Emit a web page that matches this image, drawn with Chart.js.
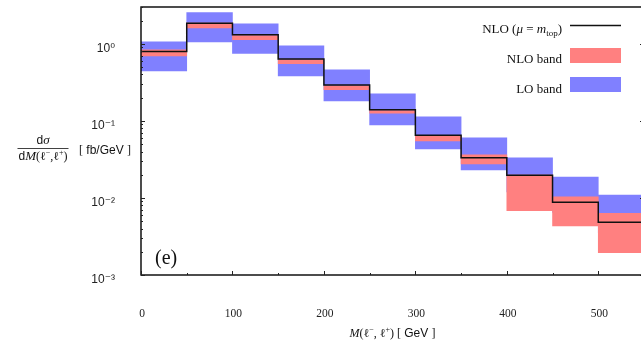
<!DOCTYPE html>
<html>
<head>
<meta charset="utf-8">
<script src="https://cdn.jsdelivr.net/npm/chart.js@4.4.1/dist/chart.umd.min.js"></script>
<style>
  html, body { margin: 0; padding: 0; background: #fff; }
  #wrap { width: 641px; height: 344px; overflow: hidden; }
</style>
</head>
<body>
<div id="wrap"><canvas id="chart" width="650" height="344"></canvas></div>
<script>
// lower edge of each 50 GeV bin in M(l-,l+)
var binLow = [0, 50, 100, 150, 200, 250, 300, 350, 400, 450, 500];
var binWidth = 50;

// dsigma/dM in fb/GeV
var nloCentral = [0.794, 1.84, 1.31, 0.633, 0.291, 0.139, 0.0648, 0.0331, 0.0197, 0.0088, 0.00483];
var nloLow     = [0.698, 1.61, 1.13, 0.55, 0.253, 0.126, 0.055, 0.0277, 0.00684, 0.00433, 0.00195];
var nloHigh    = [0.836, 1.86, 1.28, 0.62, 0.285, 0.136, 0.0645, 0.0362, 0.0198, 0.0103, 0.0063];
var loLow      = [0.446, 1.06, 0.748, 0.384, 0.182, 0.0887, 0.0433, 0.0231, 0.012, 0.0065, 0.0035];
var loHigh     = [1.06, 2.53, 1.82, 0.942, 0.459, 0.224, 0.1127, 0.0602, 0.0331, 0.0187, 0.0109];

var xTickValues = [0, 100, 200, 300, 400, 500];
var yTickValues = [0.001, 0.01, 0.1, 1];

var SERIF = '"Liberation Serif", "DejaVu Serif", serif';
var SANS = '"Liberation Sans", "DejaVu Sans", sans-serif';
var supMap = { '-': '\u207B', '0': '\u2070', '1': '\u00B9', '2': '\u00B2', '3': '\u00B3' };

function powerLabel(v) {
  var e = String(Math.round(Math.log10(v)));
  return '10' + e.split('').map(c => supMap[c]).join('');
}

// draw a row of text pieces with different fonts, returns total width
function drawRuns(ctx, runs, x, y, align) {
  var total = 0;
  runs.forEach(r => { ctx.font = r.font; r.w = ctx.measureText(r.t).width; total += r.w; });
  var cx = align === 'center' ? x - total / 2 : align === 'right' ? x - total : x;
  ctx.textAlign = 'left';
  ctx.textBaseline = 'alphabetic';
  runs.forEach(r => { ctx.font = r.font; ctx.fillText(r.t, cx, y + (r.dy || 0)); cx += r.w; });
  return total;
}

var decorations = {
  id: 'decorations',
  afterDatasetsDraw(chart) {
    var ctx = chart.ctx, a = chart.chartArea;
    var xs = chart.scales.x, ys = chart.scales.y;
    ctx.save();
    ctx.strokeStyle = '#000';
    ctx.lineWidth = 1.4;
    ctx.strokeRect(a.left, a.top, a.right - a.left, a.bottom - a.top);

    // inward ticks
    ctx.lineWidth = 1;
    ctx.strokeStyle = '#222';
    ctx.beginPath();
    for (var d = -3; d <= 0; d++) {
      for (var m = 1; m <= 9; m++) {
        var v = m * Math.pow(10, d);
        if (v > ys.max) break;
        var py = Math.round(ys.getPixelForValue(v)) + 0.5;
        var len = m === 1 ? 4 : 2;
        ctx.moveTo(a.left, py); ctx.lineTo(a.left + len, py);
        ctx.moveTo(a.right, py); ctx.lineTo(a.right - len, py);
      }
    }
    for (var xv = 0; xv <= xs.max; xv += 50) {
      var px = Math.round(xs.getPixelForValue(xv)) + 0.5;
      var l = xv % 100 === 0 ? 4 : 2;
      ctx.moveTo(px, a.bottom); ctx.lineTo(px, a.bottom - l);
    }
    ctx.stroke();
    ctx.restore();
  },
  afterDraw(chart) {
    var ctx = chart.ctx, a = chart.chartArea;
    var ds = chart.data.datasets;
    ctx.save();
    ctx.fillStyle = '#111';

    var it12 = 'italic 12px ' + SERIF, rm12 = '12px ' + SERIF, sup = '8px ' + SERIF;
    var sans12 = '12px ' + SANS;

    // x axis title
    drawRuns(ctx, [
      { t: 'M', font: it12 }, { t: '(', font: rm12 }, { t: '\u2113', font: rm12 },
      { t: '\u2212', font: sup, dy: -5 }, { t: ', ', font: rm12 }, { t: '\u2113', font: rm12 },
      { t: '+', font: sup, dy: -5 }, { t: ')', font: rm12 }, { t: ' [', font: rm12 },
      { t: ' GeV ', font: sans12 }, { t: ']', font: rm12 }
    ], (a.left + a.right) / 2, 337, 'center');

    // y axis title: fraction plus unit
    var fx = 43;
    drawRuns(ctx, [{ t: 'd', font: sans12 }, { t: '\u03C3', font: 'italic 13px ' + SERIF }], fx, 144, 'center');
    var wDen = drawRuns(ctx, [
      { t: 'd', font: sans12 }, { t: 'M', font: 'italic 13px ' + SERIF }, { t: '(', font: rm12 },
      { t: '\u2113', font: rm12 }, { t: '\u2212', font: sup, dy: -5 }, { t: ',', font: rm12 },
      { t: '\u2113', font: rm12 }, { t: '+', font: sup, dy: -5 }, { t: ')', font: rm12 }
    ], fx, 160, 'center');
    ctx.strokeStyle = '#111';
    ctx.lineWidth = 0.8;
    ctx.beginPath();
    ctx.moveTo(fx - wDen / 2 - 1, 148.5); ctx.lineTo(fx + wDen / 2 + 1, 148.5);
    ctx.stroke();
    drawRuns(ctx, [{ t: '[', font: rm12 }, { t: ' fb/GeV ', font: sans12 }, { t: ']', font: rm12 }], 79, 154, 'left');

    // panel label
    drawRuns(ctx, [{ t: '(e)', font: '20px ' + SERIF }], 155, 264, 'left');

    // legend
    var rm13 = '13px ' + SERIF, it13 = 'italic 13px ' + SERIF, sub = '9px ' + SERIF;
    var textRight = 562, swL = 570, swR = 621;
    drawRuns(ctx, [
      { t: 'NLO (', font: rm13 }, { t: '\u03BC', font: it13 }, { t: ' = ', font: rm13 },
      { t: 'm', font: it13 }, { t: 'top', font: sub, dy: 3 }, { t: ')', font: rm13 }
    ], textRight, 33, 'right');
    ctx.strokeStyle = ds[0].borderColor;
    ctx.lineWidth = 1.5;
    ctx.beginPath(); ctx.moveTo(swL, 25.5); ctx.lineTo(swR, 25.5); ctx.stroke();

    drawRuns(ctx, [{ t: ds[1].label, font: rm13 }], textRight, 63, 'right');
    ctx.fillStyle = ds[1].backgroundColor;
    ctx.fillRect(swL, 48, swR - swL, 15);

    ctx.fillStyle = '#111';
    drawRuns(ctx, [{ t: ds[2].label, font: rm13 }], textRight, 93, 'right');
    ctx.fillStyle = ds[2].backgroundColor;
    ctx.fillRect(swL, 77, swR - swL, 15);
    ctx.restore();
  }
};

var last = binLow.length - 1;
var lineData = binLow.map((x, i) => ({ x: x, y: nloCentral[i] }));
lineData.push({ x: binLow[last] + binWidth, y: nloCentral[last] });

new Chart(document.getElementById('chart').getContext('2d'), {
  type: 'bar',
  data: {
    datasets: [
      {
        type: 'line',
        label: 'NLO (\u03BC = m_top)',
        data: lineData,
        stepped: 'before',
        borderColor: '#111',
        borderWidth: 1.5,
        pointRadius: 0,
        fill: false,
        order: 0
      },
      {
        type: 'bar',
        label: 'NLO band',
        data: binLow.map((x, i) => ({ x: x + binWidth / 2, y: [nloLow[i], nloHigh[i]] })),
        backgroundColor: '#ff8080',
        borderWidth: 0,
        grouped: false,
        barPercentage: 1,
        categoryPercentage: 1,
        order: 1
      },
      {
        type: 'bar',
        label: 'LO band',
        data: binLow.map((x, i) => ({ x: x + binWidth / 2, y: [loLow[i], loHigh[i]] })),
        backgroundColor: '#8080ff',
        borderWidth: 0,
        grouped: false,
        barPercentage: 1,
        categoryPercentage: 1,
        order: 2
      }
    ]
  },
  options: {
    responsive: false,
    animation: false,
    devicePixelRatio: 1,
    layout: { padding: { top: 7, right: 6, left: 0, bottom: 0 } },
    plugins: { legend: { display: false }, tooltip: { enabled: false } },
    scales: {
      x: {
        type: 'linear',
        min: 0,
        max: 550,
        offset: false,
        grid: { display: false },
        border: { display: false },
        afterBuildTicks: s => { s.ticks = xTickValues.map(v => ({ value: v })); },
        afterFit: s => { s.height = 69; s.paddingLeft = 0; s.paddingRight = 0; },
        ticks: {
          padding: 24,
          labelOffset: 1,
          maxRotation: 0,
          autoSkip: false,
          color: '#222',
          font: { family: SERIF, size: 11.5 },
          callback: v => String(v)
        }
      },
      y: {
        type: 'logarithmic',
        min: 0.001,
        max: 3,
        grid: { display: false },
        border: { display: false },
        afterBuildTicks: s => { s.ticks = yTickValues.map(v => ({ value: v })); },
        afterFit: s => { s.width = 141; s.paddingTop = 0; s.paddingBottom = 0; },
        ticks: {
          padding: 18,
          labelOffset: 5,
          autoSkip: false,
          color: '#222',
          font: { family: SANS, size: 12 },
          callback: v => powerLabel(v)
        }
      }
    }
  },
  plugins: [decorations]
});
</script>
</body>
</html>
